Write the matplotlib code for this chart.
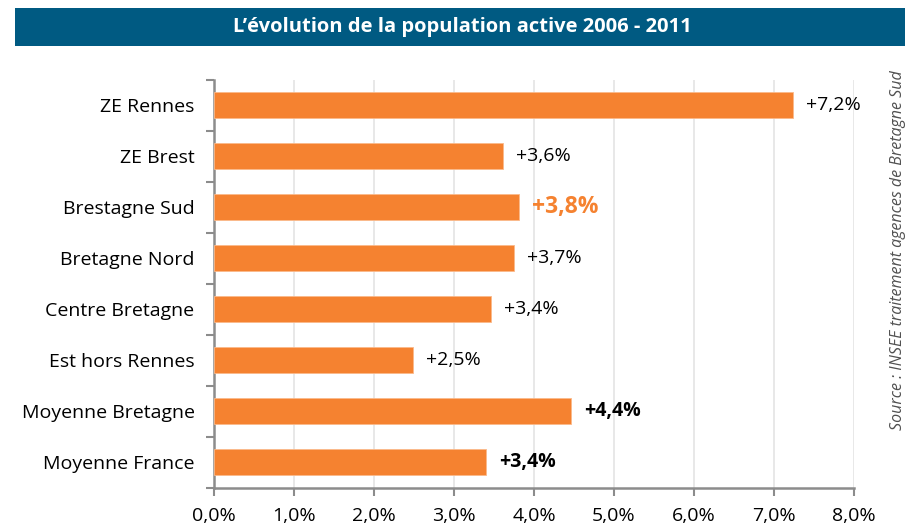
import matplotlib.pyplot as plt
from matplotlib.patches import Rectangle
from matplotlib.ticker import FixedLocator, FuncFormatter

categories = ["ZE Rennes", "ZE Brest", "Brestagne Sud", "Bretagne Nord",
              "Centre Bretagne", "Est hors Rennes", "Moyenne Bretagne", "Moyenne France"]
values = [7.24, 3.61, 3.81, 3.75, 3.46, 2.49, 4.46, 3.40]
labels = ["+7,2%", "+3,6%", "+3,8%", "+3,7%", "+3,4%", "+2,5%", "+4,4%", "+3,4%"]
label_styles = ["normal", "normal", "highlight", "normal", "normal", "normal", "bold", "bold"]

ORANGE = "#F58230"
BLUE = "#005A82"
plt.rcParams["font.family"] = ["Open Sans", "DejaVu Sans"]

fig = plt.figure(figsize=(9.05, 5.27), dpi=100)
ax = fig.add_axes([214 / 905, 1 - 487.5 / 527, 640 / 905, 408 / 527])

ypos = list(range(len(categories)))
ax.barh(ypos, values, height=0.5, color=ORANGE, edgecolor="#FBB98A", linewidth=0.6, zorder=3)

for y, v, lab, st in zip(ypos, values, labels, label_styles):
    if st == "highlight":
        ax.annotate(lab, (v, y), xytext=(13, 0), textcoords="offset pixels",
                    va="center", ha="left", fontsize=16.5, fontweight="bold", color=ORANGE)
    elif st == "bold":
        ax.annotate(lab, (v, y), xytext=(13, 0), textcoords="offset pixels",
                    va="center", ha="left", fontsize=14, fontweight="bold", color="black")
    else:
        ax.annotate(lab, (v, y), xytext=(13, 0), textcoords="offset pixels",
                    va="center", ha="left", fontsize=14, color="black")

ax.set_xlim(0, 8)
ax.set_ylim(len(categories) - 0.5, -0.5)
ax.set_xticks(range(9))
ax.xaxis.set_major_formatter(FuncFormatter(lambda x, p: f"{x:.1f}%".replace(".", ",")))
ax.set_yticks(ypos)
ax.set_yticklabels(categories)
ax.yaxis.set_minor_locator(FixedLocator([i - 0.5 for i in range(len(categories) + 1)]))

ax.grid(axis="x", color="#E6E6E6", linewidth=1.3, zorder=0)
for s in ["top", "right"]:
    ax.spines[s].set_visible(False)
for s in ["left", "bottom"]:
    ax.spines[s].set_color("#8C8C8C")
    ax.spines[s].set_linewidth(1.8)

ax.tick_params(axis="x", direction="out", length=6, width=1.5, color="#8C8C8C",
               labelsize=14, pad=8)
ax.tick_params(axis="y", which="major", length=0, labelsize=14, pad=14)
ax.tick_params(axis="y", which="minor", direction="out", length=6, width=1.5, color="#8C8C8C")

# title banner
fig.patches.append(Rectangle((15 / 905, 1 - 46 / 527), 890 / 905, 38 / 527,
                             transform=fig.transFigure, facecolor=BLUE, edgecolor="none"))
fig.text(462 / 905, 1 - 27 / 527, "L\u2019évolution de la population active 2006 - 2011",
         ha="center", va="center", color="white", fontsize=14.5, fontweight="bold")

fig.text(898 / 905, 1 - 70 / 527, "Source : INSEE traitement agences de Bretagne Sud",
         rotation=90, ha="center", va="top", fontsize=11.5, style="italic", color="#505050")

fig.savefig("out.png", dpi=100)
